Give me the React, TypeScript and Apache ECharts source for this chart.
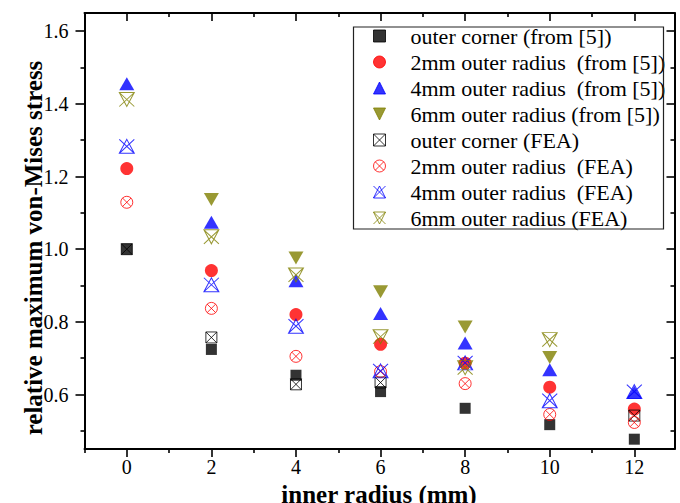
import React, { useEffect, useRef } from "react";
import * as echarts from "echarts";

// x positions (inner radius, mm)
const innerRadius = [0, 2, 4, 6, 8, 10, 12];

// series values (relative maximum von-Mises stress), null = no point
const outerCornerRef = [1.0, 0.724, 0.653, 0.608, 0.562, 0.517, 0.477];
const r2mmRef = [1.222, 0.941, 0.82, 0.738, 0.686, 0.62, 0.56];
const r4mmRef = [1.455, 1.074, 0.913, 0.823, 0.742, 0.668, 0.606];
const r6mmRef = [null, 1.137, 0.976, 0.883, 0.786, 0.702, null];
const outerCornerFEA = [1.0, 0.757, 0.628, 0.633, null, null, 0.542];
const r2mmFEA = [1.129, 0.837, 0.705, 0.663, 0.63, 0.545, 0.523];
const r4mmFEA = [1.283, 0.902, 0.788, 0.665, 0.687, 0.583, 0.608];
const r6mmFEA = [1.412, 1.034, 0.929, 0.759, 0.674, 0.751, null];

// ticks
const xMajorTicks = [0, 2, 4, 6, 8, 10, 12];
const xMinorTicks = [-1, 1, 3, 5, 7, 9, 11];
const yMajorTicks = [0.6, 0.8, 1.0, 1.2, 1.4, 1.6];
const yMinorTicks = [0.5, 0.7, 0.9, 1.1, 1.3, 1.5];

const seriesNames = [
  "outer corner (from [5])",
  "2mm outer radius  (from [5])",
  "4mm outer radius  (from [5])",
  "6mm outer radius (from [5])",
  "outer corner (FEA)",
  "2mm outer radius  (FEA)",
  "4mm outer radius  (FEA)",
  "6mm outer radius (FEA)",
];

const FONT = "'Liberation Serif', 'Times New Roman', serif";

const SQ_X = "path://M0,0L10,0L10,10L0,10ZM0,0L10,10M10,0L0,10";
const CIRC_X =
  "path://M10,5A5,5,0,1,1,0,5A5,5,0,1,1,10,5ZM1.46,1.46L8.54,8.54M8.54,1.46L1.46,8.54";
const TRI_UP_X = "path://M5,0L10,10L0,10ZM0,0L10,10M10,0L0,10";
const TRI_DOWN_X = "path://M0,0L10,0L5,10ZM0,0L10,10M10,0L0,10";
const TRI_DOWN = "path://M0,0L10,0L5,10Z";
const TRI_UP = "path://M5,0L10,10L0,10Z";
const SQUARE = "path://M0,0L10,0L10,10L0,10Z";

function toData(ys: (number | null)[]) {
  const out: number[][] = [];
  innerRadius.forEach((x, i) => {
    const y = ys[i];
    if (y !== null && y !== undefined) out.push([x, y]);
  });
  return out;
}

function mk(
  name: string,
  ys: (number | null)[],
  symbol: string,
  size: number | number[],
  color: string,
  hollow: boolean
) {
  return {
    type: "scatter",
    name,
    data: toData(ys),
    symbol,
    symbolSize: size,
    xAxisIndex: 0,
    yAxisIndex: 0,
    itemStyle: hollow
      ? { color: "transparent", borderColor: color, borderWidth: 1 }
      : { color, borderColor: color, borderWidth: 0 },
    emphasis: { disabled: true },
  };
}

function axis(
  kind: "x" | "y",
  position: string,
  ticks: number[],
  len: number,
  inside: boolean,
  showLine: boolean,
  labels: boolean
) {
  const isX = kind === "x";
  return {
    type: "value",
    position,
    min: isX ? -1 : 0.45,
    max: isX ? 12.95 : 1.65,
    splitLine: { show: false },
    axisLine: { show: showLine, onZero: false, lineStyle: { color: "#000", width: 2 } },
    axisTick: {
      show: true,
      inside,
      length: len,
      customValues: ticks,
      lineStyle: { color: "#000", width: 1.6 },
    },
    axisLabel: labels
      ? {
          show: true,
          customValues: ticks,
          color: "#000",
          fontFamily: FONT,
          fontSize: 20,
          margin: isX ? 8 : 16,
          formatter: (v: number) => (isX ? String(v) : v.toFixed(1)),
        }
      : { show: false },
  };
}

export default function App() {
  const ref = useRef<HTMLDivElement>(null);
  useEffect(() => {
    if (!ref.current) return;
    const chart = echarts.init(ref.current, null, { renderer: "svg" });
    const series = [
      mk(seriesNames[0], outerCornerRef, SQUARE, 11, "#000000", false),
      mk(seriesNames[1], r2mmRef, "circle", 13, "#ff0000", false),
      mk(seriesNames[2], r4mmRef, TRI_UP, [15, 13], "#0000ff", false),
      mk(seriesNames[3], r6mmRef, TRI_DOWN, [15, 13], "#808000", false),
      mk(seriesNames[4], outerCornerFEA, SQ_X, 11, "#000000", true),
      mk(seriesNames[5], r2mmFEA, CIRC_X, 12, "#ff0000", true),
      mk(seriesNames[6], r4mmFEA, TRI_UP_X, [15, 14], "#0000ff", true),
      mk(seriesNames[7], r6mmFEA, TRI_DOWN_X, [15, 14], "#808000", true),
    ];
    chart.setOption({
      animation: false,
      backgroundColor: "#ffffff",
      grid: { left: 84.5, top: 13, width: 590, height: 436, containLabel: false },
      xAxis: [
        axis("x", "bottom", xMajorTicks, 8, false, true, true),
        axis("x", "bottom", xMinorTicks, 4, false, false, false),
        axis("x", "top", xMajorTicks, 8, true, true, false),
        axis("x", "top", xMinorTicks, 4, true, false, false),
      ],
      yAxis: [
        axis("y", "left", yMajorTicks, 9, false, true, true),
        axis("y", "left", yMinorTicks, 4, false, false, false),
        axis("y", "right", yMajorTicks, 8, true, true, false),
        axis("y", "right", yMinorTicks, 4, true, false, false),
      ],
      legend: {
        orient: "vertical",
        left: 373,
        top: 25,
        padding: 0,
        itemGap: 4,
        itemWidth: 52,
        itemHeight: 12,
        symbolKeepAspect: true,
        selectedMode: false,
        itemStyle: { borderWidth: 1 },
        textStyle: { fontFamily: FONT, fontSize: 22, lineHeight: 21, color: "#000" },
        data: seriesNames,
      },
      graphic: [
        {
          type: "rect",
          shape: { x: 353.5, y: 27, width: 310, height: 202 },
          style: { fill: "none", stroke: "#222", lineWidth: 1.2 },
          z: 10,
        },
        {
          type: "text",
          x: 379,
          y: 494,
          style: {
            text: "inner radius (mm)",
            fontFamily: FONT,
            fontSize: 25,
            fontWeight: "bold",
            fill: "#000",
            textAlign: "center",
            textVerticalAlign: "middle",
          },
        },
        {
          type: "text",
          x: 33,
          y: 248,
          rotation: Math.PI / 2,
          style: {
            text: "relative maximum von-Mises stress",
            fontFamily: FONT,
            fontSize: 25,
            fontWeight: "bold",
            fill: "#000",
            textAlign: "center",
            textVerticalAlign: "middle",
          },
        },
      ],
      series,
    });
    return () => chart.dispose();
  }, []);
  return (
    <div
      ref={ref}
      style={{ position: "absolute", left: 0, top: 0, width: 680, height: 503 }}
    />
  );
}
